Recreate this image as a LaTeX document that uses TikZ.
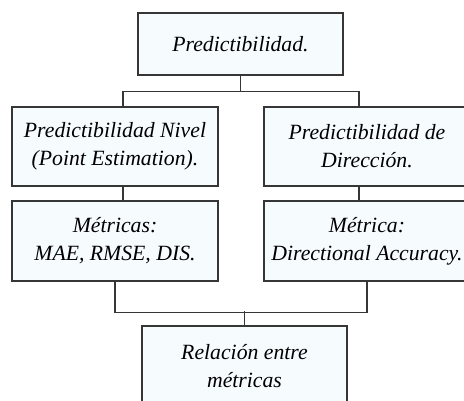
\documentclass[tikz,border=0pt]{standalone}
\usepackage{fontspec}
\setmainfont{Liberation Serif}
\usepackage{tikz}

\definecolor{boxfill}{HTML}{F6FBFE}
\definecolor{boxline}{HTML}{363636}

\begin{document}
\begin{tikzpicture}[x=0.75pt,y=0.75pt,yscale=-1,xscale=1,
  caja/.style={draw=boxline,fill=boxfill,line width=1pt,inner sep=0.75pt,
    align=center,font=\fontsize{16.3}{21}\selectfont\itshape},
  enlace/.style={draw=boxline,line width=1pt}]
%set diagram left start at 0, and has height of 400
\useasboundingbox (0,0) rectangle (464,400);

%Shape: Rectangle [id:pred]
\node [caja,minimum width=153.75pt,minimum height=46.5pt] (pred) at (240.5,44) {Predictibilidad.};
%Shape: Rectangle [id:nivel]
\node [caja,minimum width=154.5pt,minimum height=59.25pt] (nivel) at (115,146.5) {Predictibilidad Nivel\\(Point Estimation).};
%Shape: Rectangle [id:direccion]
\node [caja,minimum width=154.5pt,minimum height=59.25pt] (direccion) at (367,146.5) {Predictibilidad de\\Dirección.};
%Shape: Rectangle [id:metricas]
\node [caja,minimum width=154.5pt,minimum height=60pt] (metricas) at (115,241) {Métricas:\\MAE, RMSE, DIS.};
%Shape: Rectangle [id:metrica]
\node [caja,minimum width=154.5pt,minimum height=60pt] (metrica) at (367,241) {Métrica:\\Directional Accuracy.};
%Shape: Rectangle [id:relacion]
\node [caja,minimum width=153.75pt,minimum height=60pt] (relacion) at (244.5,366) {Relación entre\\métricas};

%Straight Lines [id:arriba]
\draw [enlace] (pred.south) -- ++(0,16) coordinate (j1);
\draw [enlace] ([xshift=6pt]nivel.north) |- (j1) -| ([xshift=-6pt]direccion.north);
%Straight Lines [id:medio]
\draw [enlace] ([xshift=6pt]nivel.south) -- ([xshift=6pt]metricas.north);
\draw [enlace] ([xshift=-6pt]direccion.south) -- ([xshift=-6pt]metrica.north);
%Straight Lines [id:abajo]
\draw [enlace] (metricas.south) -- ++(0,31) -| (metrica.south);
\draw [enlace] (relacion.north) -- ++(0,-14);

\end{tikzpicture}
\end{document}
